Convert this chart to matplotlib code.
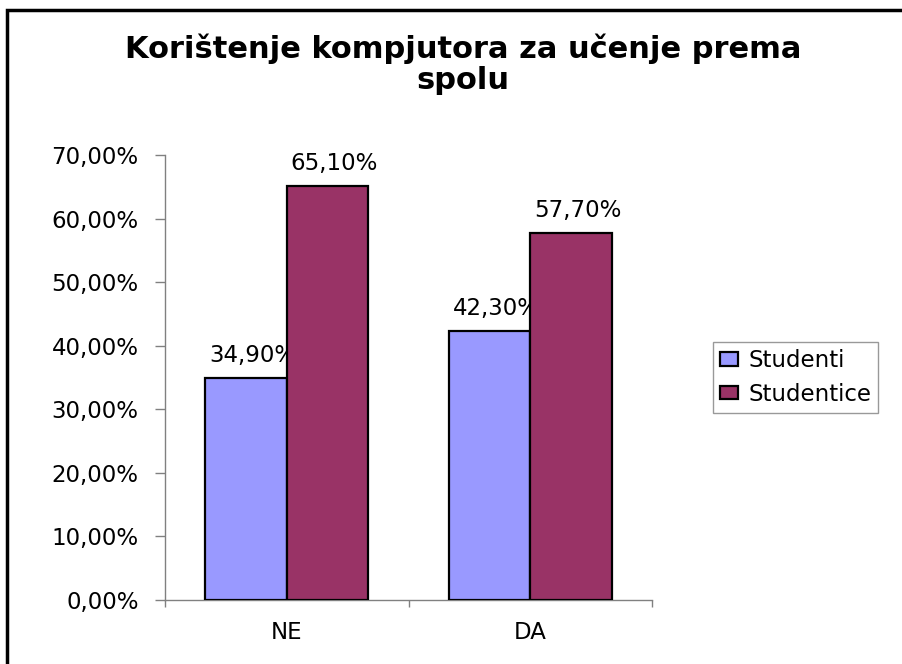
import matplotlib
matplotlib.use("Agg")
import matplotlib.pyplot as plt
from matplotlib.patches import Rectangle
from matplotlib.ticker import FixedLocator
import numpy as np

plt.rcParams["font.family"] = ["DejaVu Sans"]

TITLE = "Korištenje kompjutora za učenje prema\nspolu"
CATEGORIES = ["NE", "DA"]
SERIES = ["Studenti", "Studentice"]
VALUES = {
    "Studenti": [34.9, 42.3],
    "Studentice": [65.1, 57.7],
}
COLORS = {"Studenti": "#9999FF", "Studentice": "#993366"}
YTICKS = [0, 10, 20, 30, 40, 50, 60, 70]

W, H = 902, 664
AXGRAY = "#808080"
FS = 16.5


def pct(v):
    return ("%.2f%%" % v).replace(".", ",")


fig = plt.figure(figsize=(W / 100, H / 100), dpi=100)
ax = fig.add_axes([165 / W, 1 - 600 / H, 487 / W, 445 / H])

x = np.arange(len(CATEGORIES))
bw = 0.335
for i, s in enumerate(SERIES):
    pos = x + (i - 0.5) * bw
    bars = ax.bar(pos, VALUES[s], width=bw, color=COLORS[s], edgecolor="black",
                  linewidth=1.6, label=s, zorder=3)
    for b, v in zip(bars, VALUES[s]):
        ax.annotate(pct(v), (b.get_x() + b.get_width() / 2, v),
                    xytext=(5, 11.5), textcoords="offset points",
                    ha="center", va="baseline", fontsize=FS)

ax.set_xlim(-0.5, len(CATEGORIES) - 0.5)
ax.set_ylim(0, 70)
ax.set_yticks(YTICKS)
ax.set_yticklabels([pct(t) for t in YTICKS], fontsize=FS)
ax.set_xticks(x)
ax.set_xticklabels(CATEGORIES, fontsize=FS)
ax.xaxis.set_minor_locator(FixedLocator(np.arange(len(CATEGORIES) + 1) - 0.5))
ax.tick_params(axis="x", which="major", length=0, pad=15)
ax.tick_params(axis="x", which="minor", length=5, color=AXGRAY, width=1)
ax.tick_params(axis="y", length=7, color=AXGRAY, width=1, pad=12)

for side in ("top", "right"):
    ax.spines[side].set_visible(False)
for side in ("left", "bottom"):
    ax.spines[side].set_color(AXGRAY)
    ax.spines[side].set_linewidth(1)

leg = ax.legend(loc="center left", bbox_to_anchor=(713 / W, 1 - 377.5 / H),
                bbox_transform=fig.transFigure, fontsize=FS, frameon=True,
                fancybox=False, edgecolor=AXGRAY, borderaxespad=0,
                handlelength=0.8, handleheight=0.55, handletextpad=0.45,
                borderpad=0.3, labelspacing=0.45)
leg.get_frame().set_linewidth(1)

fig.text(463 / W, 1 - 34 / H, TITLE, ha="center", va="top", fontsize=22,
         fontweight="bold", linespacing=1.05)

fig.patches.append(Rectangle((7 / W, -0.05), 1.2, 1 - 10 / H + 0.05,
                             transform=fig.transFigure, fill=False,
                             edgecolor="black", linewidth=2.5))

fig.savefig("out.png", dpi=100)
